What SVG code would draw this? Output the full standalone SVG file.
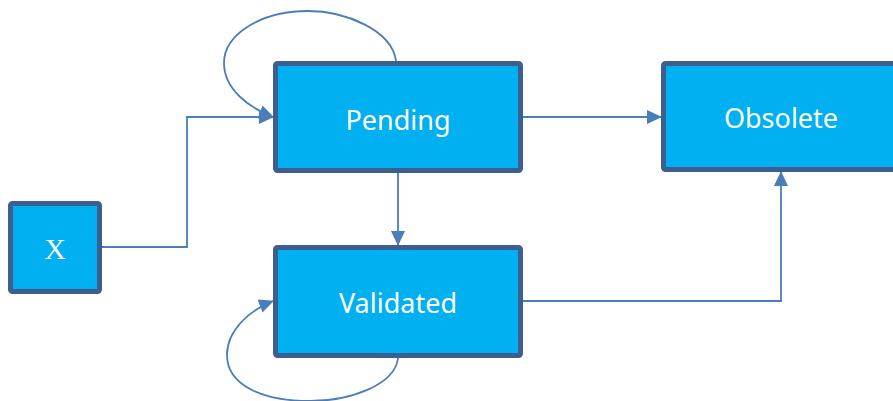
<svg xmlns="http://www.w3.org/2000/svg" width="893" height="401" viewBox="0 0 893 401">
<style>
.node rect{fill:#00b0f0;stroke:#3c5f8f;stroke-width:5;}
.lbl{fill:#ffffff;font-family:"Noto Sans","Open Sans",sans-serif;font-size:27px;text-anchor:middle;dominant-baseline:central;}
.edge{fill:none;stroke:#4a7ebb;stroke-width:1.8;marker-end:url(#arr);}
</style>
<defs>
<marker id="arr" markerUnits="userSpaceOnUse" markerWidth="15" markerHeight="14" refX="14" refY="7" orient="auto">
<path d="M0,0 L15,7 L0,14 z" fill="#4a7ebb"/>
</marker>
</defs>
<g id="connectors">
<path class="edge" d="M102,247 H187 V117 H273"/>
<path class="edge" d="M523,117 H661"/>
<path class="edge" d="M398,173 V245"/>
<path class="edge" d="M523,301 H781 V172"/>
<path class="edge" d="M396,61 C392,30 345,11 308,11 C260,11 224,35 224,63 C224,90 250,108 273,117"/>
<path class="edge" d="M398,358 C395,385 350,401 310,401 C262,401 227,385 227,355 C227,330 250,310 273,301"/>
</g>
<g id="x" class="node">
<rect x="10.5" y="203.5" width="89" height="88" rx="2"/>
<text x="55" y="248" style="fill:#fff;font-family:'Liberation Serif',serif;font-size:30px;text-anchor:middle;dominant-baseline:central;">X</text>
</g>
<g id="pending" class="node">
<rect x="275.5" y="63.5" width="245" height="107" rx="2"/>
<text class="lbl" x="398" y="119">Pending</text>
</g>
<g id="validated" class="node">
<rect x="275.5" y="247.5" width="245" height="108" rx="2"/>
<text class="lbl" x="398" y="302">Validated</text>
</g>
<g id="obsolete" class="node">
<rect x="663.5" y="63.5" width="245" height="106" rx="2"/>
<text class="lbl" x="781" y="117">Obsolete</text>
</g>
</svg>
